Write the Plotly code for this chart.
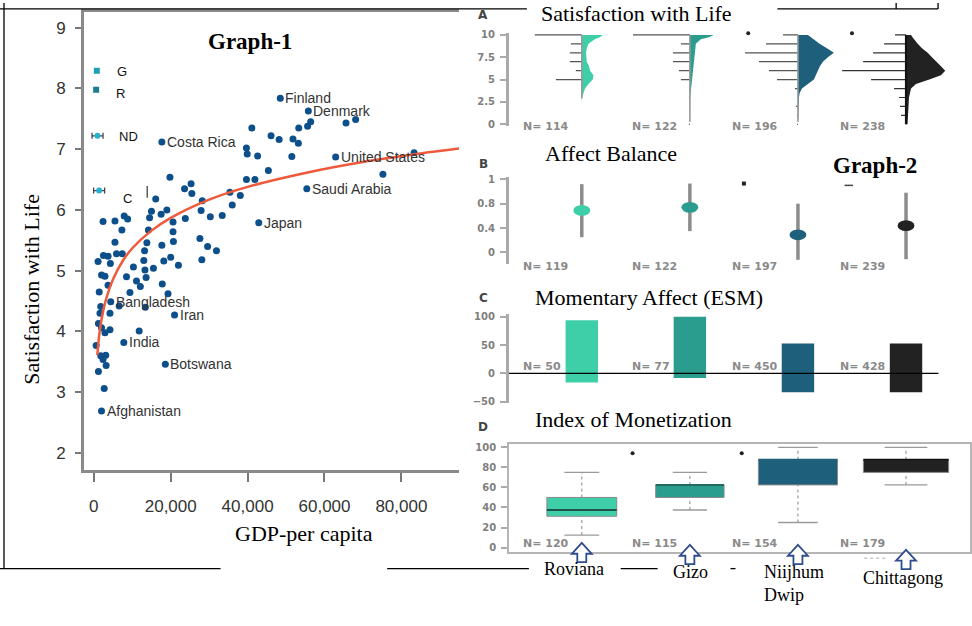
import math
import plotly.graph_objects as go

W, H = 972, 626


def fx(px):
    return px / W


def fy(py):
    return 1 - py / H


# ---------------- Graph-1 data ----------------
gdp = [41100, 39700, 39900, 42600, 46100, 48200, 51800, 53200, 51500, 53300, 55600, 56400,
       65600, 68100, 75200, 83300, 45400, 39700, 41900, 35400, 38100, 36000, 33400, 30300,
       27900, 28200, 23600, 25300, 25500, 19800, 23800, 27600, 29600, 31900, 28100, 20600,
       20600, 20700, 20000, 22000, 18200, 17700, 17500, 19000, 16100, 15000, 14500, 14200,
       13800, 13200, 13000, 13300, 13600, 15500, 17800, 19300, 13400, 12100, 11100, 10300,
       8500, 9400, 6600, 7400, 5900, 7300, 5500, 5500, 7900, 8800, 2400, 1100, 2500, 3700,
       4300, 2000, 2900, 3700, 1400, 1800, 1600, 4200, 1200, 2000, 2900, 4200, 11800, 600,
       1800, 3100, 2400, 3200, 1200, 2700]
swl = [7.35, 7.02, 6.92, 6.89, 7.22, 7.16, 7.17, 7.10, 6.88, 7.35, 7.38, 7.45,
       7.43, 7.49, 6.59, 6.94, 6.65, 6.50, 6.50, 6.29, 6.24, 6.08, 5.91, 5.89,
       5.99, 6.15, 6.35, 6.43, 6.27, 6.54, 5.86, 5.53, 5.40, 5.33, 5.18, 5.80,
       5.64, 5.48, 5.22, 5.09, 5.16, 5.42, 5.93, 6.00, 6.18, 5.98, 5.87, 5.67,
       5.46, 5.33, 5.17, 5.01, 4.89, 5.04, 4.78, 4.62, 4.40, 4.74, 4.83, 5.06,
       4.90, 4.64, 4.42, 5.28, 5.28, 5.67, 5.47, 5.82, 5.90, 5.85, 5.81, 5.15, 5.25, 5.24,
       5.12, 4.93, 4.91, 4.76, 4.65, 4.41, 4.30, 4.30, 4.13, 4.06, 3.98, 4.03, 4.01, 3.77,
       3.60, 3.61, 3.54, 3.44, 3.34, 3.06]

label_names = ["Finland", "Denmark", "Costa Rica", "United States", "Saudi Arabia", "Japan",
               "Bangladesh", "Iran", "India", "Botswana", "Afghanistan"]
label_gdp = [48500, 55800, 17700, 62900, 55400, 42900, 4400, 21000, 7800, 18600, 2000]
label_swl = [7.84, 7.63, 7.12, 6.87, 6.35, 5.79, 4.49, 4.27, 3.82, 3.46, 2.69]

fit_gdp = [900, 1500, 2500, 3500, 5000, 7500, 10000, 15000, 20000, 30000, 40000, 55000,
           70000, 85000, 95000]
fit_swl = [3.61, 3.99, 4.36, 4.60, 4.86, 5.16, 5.37, 5.66, 5.87, 6.17, 6.38, 6.61,
           6.79, 6.93, 7.01]

site_codes = ["G", "R", "ND", "C"]
site_gdp = [780, 600, 960, 1380]
site_swl = [8.29, 7.98, 7.22, 6.32]
site_err = [0, 0, 1430, 1430]

g1_xticks = [0, 20000, 40000, 60000, 80000]
g1_yticks = [2, 3, 4, 5, 6, 7, 8, 9]

# ---------------- Graph-2 data ----------------
sites = ["Roviana", "Gizo", "Niijhum<br>Dwip", "Chittagong"]
positions = [1, 2, 3, 4]

# A: Satisfaction with Life (bean plot)
swl_scores = list(range(11))
swl_counts = [
    [0, 0, 0, 0, 0, 26, 6, 12, 12, 11, 47],
    [1, 0, 0, 1, 0, 9, 11, 17, 17, 9, 57],
    [1, 1, 2, 0, 3, 21, 29, 39, 53, 32, 15],
    [0, 5, 6, 7, 12, 35, 64, 43, 33, 22, 11],
]
dens_levels = [10, 9.75, 9.5, 9, 8.5, 8, 7.5, 7, 6.5, 6, 5.5, 5, 4.5, 4, 3.5, 3, 2, 1, 0]
swl_density = [
    [21, 18, 13, 6.7, 5, 4.3, 4.5, 5, 7.3, 8.3, 11.7, 11, 6.7, 3.3, 1.7, 0.3, 0, 0, 0],
    [24, 19, 11, 6, 5.5, 5, 4.7, 4.3, 3.8, 3.3, 2.7, 2, 1.5, 1, 0.5, 0.3, 0.2, 0.2, 0],
    [10, 13, 16, 21.7, 29, 36, 30, 25, 22, 20, 18, 16, 10, 4, 1.7, 1, 0.7, 0.5, 0],
    [5, 6.5, 8, 11.7, 16, 21.7, 26, 30, 35, 39.3, 35, 23.3, 10, 5, 4, 3, 2.5, 2, 1.5],
]
swl_low = [2.9, 0.3, 0.3, 0.0]
swl_high = [10, 10, 10, 10]
a_dot_x = [2.54, 3.50]
a_dot_y = [10.18, 10.18]
n_a = [114, 122, 196, 238]

# B: Affect Balance
ab_mean = [0.69, 0.74, 0.29, 0.44]
ab_low = [0.25, 0.35, -0.12, -0.11]
ab_high = [1.12, 1.13, 0.80, 0.98]
b_tickvals = [0, 0.4, 0.8, 1.2]
b_ticktext = ["0", "0.4", "0.8", "1"]
b_dot_x = [2.50]
b_dot_y = [1.13]
b_dash_x = [3.47]
b_dash_y = [1.10]
n_b = [119, 122, 197, 239]

# C: Momentary Affect (ESM)
esm_low = [-16, -8, -33, -33]
esm_high = [94, 100, 53, 53]
n_c = [50, 77, 450, 428]

# D: Index of Monetization
mon_lo = [12.5, 37.5, 25, 62.5]
mon_q1 = [31.25, 50, 62.5, 75]
mon_med = [37.5, 62.5, 87.5, 87.5]
mon_q3 = [50, 62.5, 87.5, 87.5]
mon_hi = [75, 75, 100, 100]
d_dot_x = [1.47, 2.48]
d_dot_y = [94, 94]
n_d = [120, 115, 154, 179]

# ---------------- styles ----------------
SERIF = "Liberation Serif, Times New Roman, serif"
NARROW = "Liberation Sans Narrow, Arial Narrow, Liberation Sans, Arial, sans-serif"
SMALL = "DejaVu Sans, Verdana, sans-serif"
DOT = "#0d4f8a"
FIT = "#ef5a3c"
COLORS = ["#3ecfa8", "#2a9d8f", "#1e5f7b", "#222222"]
MED_COLORS = ["#1f5249", "#1d6b62", "#1e5f7b", "#111111"]
PX_UNIT = 108.3          # pixels per group step on the Graph-2 x axes
BEAN = 1 / PX_UNIT       # x units per respondent / density point
XR2 = [0.326, 4.592]
N_OFF = [-0.56, -0.55, -0.63, -0.63]

fig = go.Figure()

# ---------------- Graph-1 traces ----------------
fig.add_trace(go.Scatter(x=gdp, y=swl, mode="markers", marker=dict(size=7, color=DOT),
                         xaxis="x", yaxis="y", hoverinfo="skip"))
fig.add_trace(go.Scatter(x=label_gdp, y=label_swl, mode="markers", marker=dict(size=7, color=DOT),
                         xaxis="x", yaxis="y", hoverinfo="skip"))
fig.add_trace(go.Scatter(x=fit_gdp, y=fit_swl, mode="lines",
                         line=dict(color=FIT, width=2.5, shape="spline"),
                         xaxis="x", yaxis="y", hoverinfo="skip"))
fig.add_trace(go.Scatter(x=site_gdp[:2], y=site_swl[:2], mode="markers",
                         marker=dict(symbol="square", size=6, color=["#1f9fb5", "#1b7f8f"]),
                         xaxis="x", yaxis="y", hoverinfo="skip"))
fig.add_trace(go.Scatter(x=site_gdp[2:], y=site_swl[2:], mode="markers",
                         marker=dict(symbol="circle", size=6, color="#29b0d0"),
                         error_x=dict(type="data", array=site_err[2:], color="#444",
                                      thickness=1.3, width=3),
                         xaxis="x", yaxis="y", hoverinfo="skip"))

# ---------------- Panel A ----------------
for g, p in enumerate(positions):
    xs = [p] + [p + w * BEAN for w in swl_density[g]] + [p]
    ys = [10] + dens_levels + [0]
    fig.add_trace(go.Scatter(x=xs, y=ys, mode="lines", fill="toself", fillcolor=COLORS[g],
                             line=dict(width=0, color=COLORS[g]), xaxis="x2", yaxis="y2",
                             hoverinfo="skip"))
    bx, by = [], []
    for s, c in zip(swl_scores, swl_counts[g]):
        if c > 0:
            bx += [p - c * BEAN, p, None]
            by += [s, s, None]
    fig.add_trace(go.Scatter(x=bx, y=by, mode="lines",
                             line=dict(color="#555" if g < 3 else "#333", width=1.2),
                             xaxis="x2", yaxis="y2", hoverinfo="skip"))
    fig.add_trace(go.Scatter(x=[p, p], y=[swl_low[g], swl_high[g]], mode="lines",
                             line=dict(color="#999" if g < 3 else "#111", width=1.6 if g < 3 else 2.2),
                             xaxis="x2", yaxis="y2", hoverinfo="skip"))
fig.add_trace(go.Scatter(x=a_dot_x, y=a_dot_y, mode="markers",
                         marker=dict(size=4, color="#222"), xaxis="x2", yaxis="y2",
                         hoverinfo="skip", cliponaxis=False))

# ---------------- Panel B ----------------
for g, p in enumerate(positions):
    fig.add_trace(go.Scatter(x=[p, p], y=[ab_low[g], ab_high[g]], mode="lines",
                             line=dict(color="#8c8c8c", width=3.5), xaxis="x3", yaxis="y3",
                             hoverinfo="skip"))
fig.add_trace(go.Scatter(x=b_dot_x, y=b_dot_y, mode="markers",
                         marker=dict(symbol="square", size=4, color="#222"),
                         xaxis="x3", yaxis="y3", hoverinfo="skip", cliponaxis=False))
fig.add_trace(go.Scatter(x=b_dash_x, y=b_dash_y, mode="markers",
                         marker=dict(symbol="line-ew", size=6, line=dict(color="#444", width=1.5)),
                         xaxis="x3", yaxis="y3", hoverinfo="skip", cliponaxis=False))

# ---------------- Panel C ----------------
fig.add_trace(go.Bar(x=positions, y=[h - l for h, l in zip(esm_high, esm_low)], base=esm_low,
                     width=0.30, marker=dict(color=COLORS, line=dict(width=0)),
                     xaxis="x4", yaxis="y4", hoverinfo="skip"))

# ---------------- Panel D ----------------
box_w = [0.059 * math.sqrt(n) for n in n_d]
wx, wy, cx, cy = [], [], [], []
for g, p in enumerate(positions):
    wx += [p, p, None, p, p, None]
    wy += [mon_q3[g], mon_hi[g], None, mon_lo[g], mon_q1[g], None]
    hw = box_w[g] / 4
    cx += [p - hw, p + hw, None, p - hw, p + hw, None]
    cy += [mon_hi[g], mon_hi[g], None, mon_lo[g], mon_lo[g], None]
fig.add_trace(go.Scatter(x=wx, y=wy, mode="lines", line=dict(color="#9a9a9a", width=1.2, dash="dot"),
                         xaxis="x5", yaxis="y5", hoverinfo="skip"))
fig.add_trace(go.Scatter(x=cx, y=cy, mode="lines", line=dict(color="#9a9a9a", width=1.3),
                         xaxis="x5", yaxis="y5", hoverinfo="skip"))
fig.add_trace(go.Bar(x=positions, y=[b - a for a, b in zip(mon_q1, mon_q3)], base=mon_q1,
                     width=box_w, marker=dict(color=COLORS, line=dict(color="#8a8a8a", width=1)),
                     xaxis="x5", yaxis="y5", hoverinfo="skip"))
for g, p in enumerate(positions):
    hw = box_w[g] / 2
    fig.add_trace(go.Scatter(x=[p - hw, p + hw], y=[mon_med[g], mon_med[g]], mode="lines",
                             line=dict(color=MED_COLORS[g], width=2), xaxis="x5", yaxis="y5",
                             hoverinfo="skip"))
fig.add_trace(go.Scatter(x=d_dot_x, y=d_dot_y, mode="markers", marker=dict(size=4, color="#222"),
                         xaxis="x5", yaxis="y5", hoverinfo="skip"))

# ---------------- axes ----------------
g1_font = dict(family=NARROW, size=17, color="#333")
small_tick = dict(family=SMALL, size=10, color="#808080", weight="bold")

layout = dict(
    width=W, height=H, margin=dict(l=0, r=0, t=0, b=0), autosize=False,
    paper_bgcolor="white", plot_bgcolor="white", showlegend=False, hovermode=False,
    barmode="overlay",
    xaxis=dict(domain=[fx(84), fx(460)], range=[-2600, 95000], tickvals=g1_xticks,
               tickformat=",", ticks="outside", ticklen=9, tickwidth=1.5, tickcolor="#777",
               showline=True, linecolor="#8a8a8a", linewidth=2.5, mirror=True,
               showgrid=False, zeroline=False, tickfont=g1_font, ticklabelstandoff=10,
               anchor="y"),
    yaxis=dict(domain=[fy(472.3), fy(9)], range=[1.72, 9.26], tickvals=g1_yticks,
               ticks="outside", ticklen=6, tickwidth=1.5, tickcolor="#777",
               showline=True, linecolor="#8a8a8a", linewidth=2.5, mirror=False,
               showgrid=False, zeroline=False, tickfont=g1_font, ticklabelstandoff=6,
               anchor="x"),
)
for i in (2, 3, 4, 5):
    layout[f"xaxis{i}"] = dict(domain=[fx(510), 1.0], range=XR2, visible=(i == 5),
                               showgrid=False, zeroline=False, anchor=f"y{i}",
                               showticklabels=False, ticks="",
                               showline=(i == 5), mirror=True, linecolor="#b5b5b5", linewidth=1.5)
ycommon = dict(ticks="outside", ticklen=6, tickwidth=1.5, tickcolor="#aaa", showgrid=False,
               zeroline=False, tickfont=small_tick, ticklabelstandoff=3)
layout["yaxis2"] = dict(domain=[fy(124), fy(30)], range=[-0.144, 10.25], tickvals=[0, 2.5, 5, 7.5, 10],
                        ticktext=["0", "2.5", "5", "7.5", "10"], showline=True, linecolor="#aaa",
                        linewidth=3, anchor="x2", **ycommon)
layout["yaxis3"] = dict(domain=[fy(264), fy(176)], range=[-0.19, 1.237], tickvals=b_tickvals,
                        ticktext=b_ticktext, showline=True, linecolor="#aaa", linewidth=3,
                        anchor="x3", **ycommon)
layout["yaxis4"] = dict(domain=[fy(405), fy(315)], range=[-53, 104], tickvals=[-50, 0, 50, 100],
                        showline=True, linecolor="#aaa", linewidth=3, anchor="x4", **ycommon)
layout["yaxis5"] = dict(domain=[fy(555), fy(446)], range=[-4.2, 103.3],
                        tickvals=[0, 20, 40, 60, 80, 100], showline=True, mirror=True,
                        linecolor="#b5b5b5", linewidth=1.5, anchor="x5", **ycommon)
fig.update_layout(**layout)

# ---------------- annotations ----------------
ann = []


def text(x, y, t, font, **kw):
    d = dict(x=x, y=y, text=t, showarrow=False, font=font, xref="paper", yref="paper",
             xanchor="center", yanchor="middle")
    d.update(kw)
    ann.append(d)


serif22 = dict(family=SERIF, size=22, color="#000")
text(fx(251), fy(39), "<b>Graph-1</b>", dict(family=SERIF, size=23, color="#000"))
text(fx(877), fy(164), "<b>Graph-2</b>", dict(family=SERIF, size=23, color="#000"))
text(fx(32), fy(289), "Satisfaction with Life", serif22, textangle=-90)
text(fx(305), fy(537), "GDP-per capita", serif22)
text(fx(638), fy(11), "Satisfaction with Life", serif22)
text(fx(612), fy(152.5), "Affect Balance", serif22)
text(fx(650), fy(297.5), "Momentary Affect (ESM)", serif22)
text(fx(635), fy(421), "Index of Monetization", serif22)

letter_font = dict(family=SMALL, size=12, color="#444", weight="bold")
for L, py in zip("ABCD", [12, 162.5, 298, 429]):
    text(fx(484), fy(py), L, letter_font)

for name, gx, gy in zip(label_names, label_gdp, label_swl):
    ann.append(dict(x=gx, y=gy, xref="x", yref="y", text=name, showarrow=False,
                    xanchor="left", yanchor="middle", xshift=3,
                    font=dict(family=NARROW, size=14, color="#333")))

code_font = dict(family="Liberation Sans, Arial, sans-serif", size=13, color="#111")
code_shift = [(18, -1), (18, -4), (19, -1), (22, -8)]
for code, gx, gy, (dx, dy) in zip(site_codes, site_gdp, site_swl, code_shift):
    ann.append(dict(x=gx, y=gy, xref="x", yref="y", text=code, showarrow=False,
                    xanchor="left", yanchor="middle", xshift=dx, yshift=dy, font=code_font))

n_font = dict(family=SMALL, size=11, color="#8a8a8a", weight="bold")
for axis, ns, py in (("x2", n_a, 125), ("x3", n_b, 266.5), ("x4", n_c, 367.3), ("x5", n_d, 546.7)):
    for g, (p, n) in enumerate(zip(positions, ns)):
        ann.append(dict(x=p + N_OFF[g], y=fy(py), xref=axis, yref="paper", text=f"N= {n}",
                        showarrow=False, xanchor="left", yanchor="middle", font=n_font))

site_font = dict(family=SERIF, size=18, color="#000")
text(fx(575.5), fy(572.5), sites[0], site_font)
text(fx(692), fy(575), sites[1], site_font)
text(fx(764), fy(587), sites[2], site_font, xanchor="left", align="left")
text(fx(905), fy(581.7), sites[3], site_font)

# ---------------- shapes ----------------
shapes = []
for x0, y0, x1, y1 in [(0, 6, 528, 6), (779, 6, 940, 6), (898, 0, 898, 6), (940, 0, 940, 6),
                       (4, 0, 4, 572), (0, 572, 221, 572), (388, 572, 530, 572),
                       (622, 572, 659, 572), (732, 572, 737, 572)]:
    shapes.append(dict(type="line", xref="paper", yref="paper", x0=fx(x0), y0=fy(y0),
                       x1=fx(x1), y1=fy(y1), line=dict(color="#000", width=1.3)))
shapes.append(dict(type="line", xref="paper", yref="paper", x0=fx(147.5), y0=fy(185),
                   x1=fx(147.5), y1=fy(197), line=dict(color="#333", width=1.2)))
shapes.append(dict(type="line", xref="paper", yref="paper", x0=fx(866), y0=fy(561.5),
                   x1=fx(887), y1=fy(561.5), line=dict(color="#c8c8c8", width=1.5, dash="dot")))
# zero line of panel C
shapes.append(dict(type="line", xref="x4", yref="y4", x0=0.3, x1=4.3, y0=0, y1=0,
                   line=dict(color="#000", width=1.2)))
# panel B mean ellipses
for g, p in enumerate(positions):
    shapes.append(dict(type="circle", xref="x3", yref="y3", x0=p - 0.078, x1=p + 0.078,
                       y0=ab_mean[g] - 0.088, y1=ab_mean[g] + 0.088,
                       fillcolor=COLORS[g], line=dict(width=0)))
# hollow arrows under panel D
tips = [546, 548, 548, 553]
hw, sw = 10 / PX_UNIT, 4.5 / PX_UNIT
for p, tip in zip(positions, tips):
    t, hb, bt = fy(tip), fy(tip + 11), fy(tip + 19.5)
    path = (f"M {p},{t} L {p + hw},{hb} L {p + sw},{hb} L {p + sw},{bt} "
            f"L {p - sw},{bt} L {p - sw},{hb} L {p - hw},{hb} Z")
    shapes.append(dict(type="path", xref="x5", yref="paper", path=path,
                       fillcolor="white", line=dict(color="#2f4d8c", width=1.8)))

fig.update_layout(annotations=ann, shapes=shapes)
fig.write_html("out.html", config={"displayModeBar": False},
               post_script="document.body.style.margin='0';document.body.style.overflow='hidden';")
